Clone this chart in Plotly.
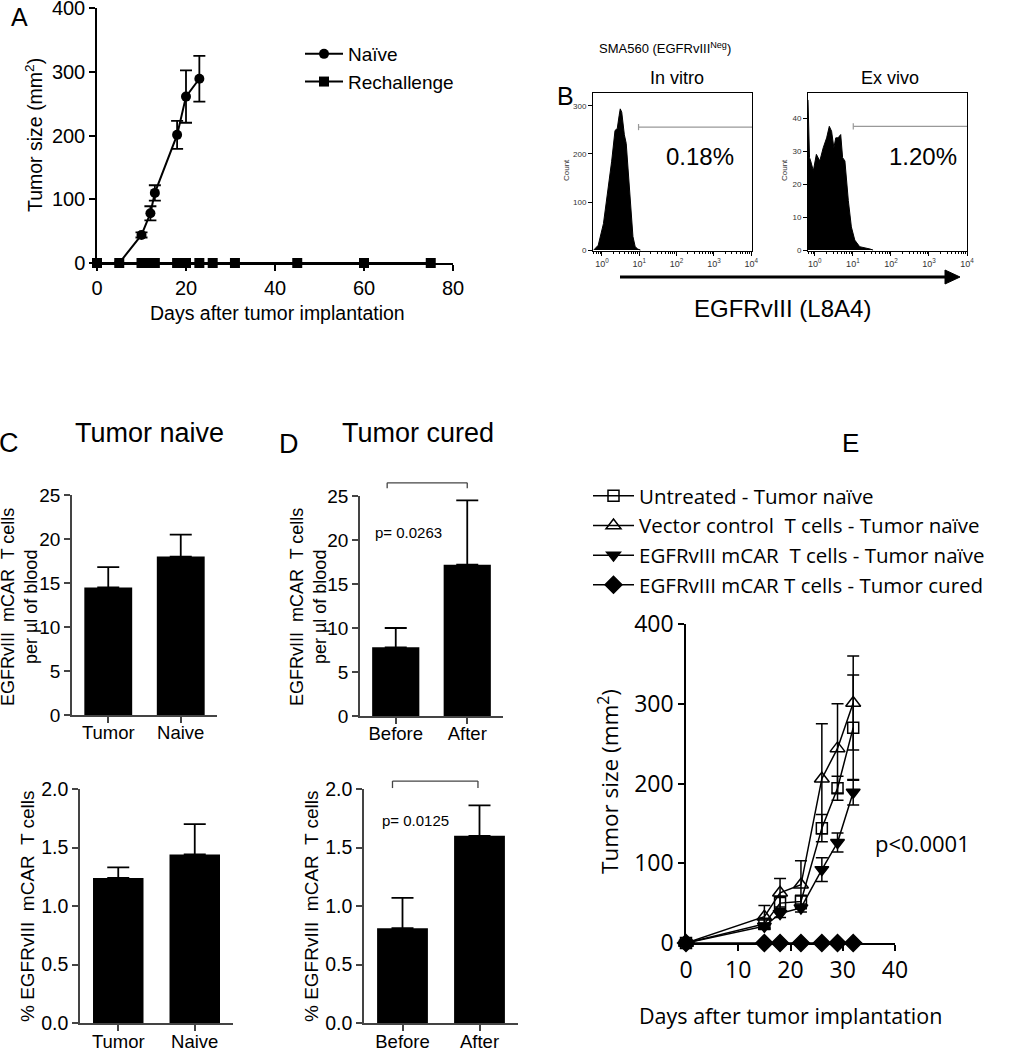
import numpy as np
import plotly.graph_objects as go

W, H = 1021, 1050
ARIAL = "Liberation Sans, Arial, sans-serif"
SEGOE = "Open Sans, sans-serif"

# ---------------- Panel A data ----------------
a_naive_days = [0, 5, 10, 12, 13, 18, 20, 23]
a_naive_size = [0, 0, 44, 78, 110, 201, 261, 289]
a_naive_err = [0, 0, 4, 11, 12, 22, 41, 36]
a_re_days = [0, 5, 10, 11, 12, 13, 18, 19, 20, 23, 26, 31, 45, 60, 75]
a_re_size = [0, 0, 0, 0, 0, 0, 0, 0, 0, 0, 0, 0, 0, 0, 0]
a_xticks = [0, 20, 40, 60, 80]
a_yticks = [0, 100, 200, 300, 400]

# ---------------- Panel B data (log10 fluorescence, count) ----------------
b_vitro_log = [-0.22, -0.10, 0.04, 0.14, 0.26, 0.35, 0.41, 0.46, 0.49, 0.53,
               0.60, 0.65, 0.68, 0.76, 0.83, 0.89, 0.96, 1.03]
b_vitro_cnt = [0, 10, 55, 110, 185, 249, 253, 280, 294, 287,
               240, 222, 190, 104, 28, 7, 2, 0]
b_vivo_log = [-0.18, -0.165, -0.14, -0.11, -0.04, 0.04, 0.13, 0.22, 0.31, 0.38,
              0.44, 0.50, 0.55, 0.61, 0.68, 0.73, 0.79, 0.88, 0.96, 1.05,
              1.18, 1.45, 1.53]
b_vivo_cnt = [45.5, 40, 28, 27, 24, 29, 27, 31, 34, 37.5,
              36, 31, 34, 34, 35, 28, 27, 15, 7, 3,
              1, 0.3, 0]
b_vitro_gate = {"log": [0.98, 4.02], "count": 256}
b_vivo_gate = {"log": [1.01, 4.0], "count": 37.5}
b_vitro_yticks = [0, 100, 200, 300]
b_vivo_yticks = [0, 10, 20, 30, 40]
b_xtick_exp = [0, 1, 2, 3, 4]
b_vitro_pct = "0.18%"
b_vivo_pct = "1.20%"

# ---------------- Panel C / D data ----------------
c_cats = ["Tumor", "Naive"]
c_count = [14.5, 18.0]
c_count_err = [2.3, 2.5]
c_pct = [1.24, 1.44]
c_pct_err = [0.09, 0.26]
d_cats = ["Before", "After"]
d_count = [7.8, 17.2]
d_count_err = [2.2, 7.3]
d_pct = [0.81, 1.60]
d_pct_err = [0.26, 0.26]
count_ticks = [0, 5, 10, 15, 20, 25]
pct_ticks = [0.0, 0.5, 1.0, 1.5, 2.0]
pct_ticktext = ["0.0", "0.5", "1.0", "1.5", "2.0"]
d_count_p = "p= 0.0263"
d_pct_p = "p= 0.0125"

# ---------------- Panel E data ----------------
e_days = [0, 15, 18, 22, 26, 29, 32]
e_untreated = [0, 24, 50, 52, 144, 194, 270]
e_untreated_err = [0, 6, 8, 8, 17, 15, 66]
e_vector = [0, 33, 63, 73, 206, 244, 301]
e_vector_err = [0, 14, 18, 30, 69, 56, 59]
e_car_naive = [0, 21, 37, 44, 92, 126, 189]
e_car_naive_err = [0, 4, 5, 5, 15, 12, 16]
e_car_cured = [0, 0, 0, 0, 0, 0, 0]
e_xticks = [0, 10, 20, 30, 40]
e_yticks = [0, 100, 200, 300, 400]
e_names = ["Untreated - Tumor naïve",
           "Vector control  T cells - Tumor naïve",
           "EGFRvIII mCAR  T cells - Tumor naïve",
           "EGFRvIII mCAR T cells - Tumor cured"]


def px(x, y):
    return x / W, 1 - y / H


def dom_x(a, b):
    return [a / W, b / W]


def dom_y(top, bottom):
    return [1 - bottom / H, 1 - top / H]


def axis(domain, anchor, size, font=ARIAL, **kw):
    d = dict(domain=domain, anchor=anchor, showline=True, linecolor="black",
             linewidth=1.5, ticks="outside", tickcolor="black", ticklen=6,
             tickwidth=1.5, showgrid=False, zeroline=False, fixedrange=True,
             automargin=False, ticklabeloverflow="allow",
             tickfont=dict(family=font, size=size, color="black"))
    d.update(kw)
    return d


fig = go.Figure()

# ---------------- Panel A ----------------
fig.add_trace(go.Scatter(
    x=a_re_days, y=a_re_size, mode="lines+markers", name="Rechallenge",
    line=dict(color="black", width=2), marker=dict(symbol="square", size=10, color="black"),
    xaxis="x", yaxis="y", cliponaxis=False, legend="legend"))
fig.add_trace(go.Scatter(
    x=a_naive_days, y=a_naive_size, mode="lines+markers", name="Naïve",
    line=dict(color="black", width=2), marker=dict(symbol="circle", size=10, color="black"),
    error_y=dict(type="data", array=a_naive_err, color="black", thickness=1.8, width=6),
    xaxis="x", yaxis="y", cliponaxis=False, legend="legend"))

# ---------------- Panel B ----------------
for lg, cnt, gate, xa, ya in [(b_vitro_log, b_vitro_cnt, b_vitro_gate, "x2", "y2"),
                              (b_vivo_log, b_vivo_cnt, b_vivo_gate, "x3", "y3")]:
    fig.add_trace(go.Scatter(
        x=10 ** np.array(lg), y=cnt, mode="lines", fill="tozeroy",
        fillcolor="black", line=dict(color="black", width=1),
        xaxis=xa, yaxis=ya, showlegend=False))
    gx = 10 ** np.array(gate["log"])
    g = gate["count"]
    fig.add_trace(go.Scatter(
        x=[gx[0], gx[1]], y=[g, g], mode="lines",
        line=dict(color="#999999", width=1.2), xaxis=xa, yaxis=ya,
        showlegend=False, cliponaxis=False))
    fig.add_trace(go.Scatter(
        x=[gx[0], gx[0]], y=[g * 0.975, g * 1.025], mode="lines",
        line=dict(color="#999999", width=1.2), xaxis=xa, yaxis=ya,
        showlegend=False))

# ---------------- Panels C / D ----------------
for cats, vals, errs, xa, ya in [(c_cats, c_count, c_count_err, "x4", "y4"),
                                 (c_cats, c_pct, c_pct_err, "x5", "y5"),
                                 (d_cats, d_count, d_count_err, "x6", "y6"),
                                 (d_cats, d_pct, d_pct_err, "x7", "y7")]:
    fig.add_trace(go.Bar(
        x=cats, y=vals, width=0.66, marker=dict(color="black", line=dict(width=0)),
        error_y=dict(type="data", array=errs, arrayminus=[0] * len(errs),
                     symmetric=False, color="black", thickness=1.8, width=11),
        xaxis=xa, yaxis=ya, showlegend=False))

# ---------------- Panel E ----------------
e_series = [
    (e_untreated, e_untreated_err, "square-open", 11),
    (e_vector, e_vector_err, "triangle-up-open", 13),
    (e_car_naive, e_car_naive_err, "triangle-down", 12),
    (e_car_cured, None, "diamond", 13),
]
for (vals, errs, sym, sz), name in zip(e_series, e_names):
    tr = dict(x=e_days, y=vals, mode="lines+markers", name=name,
              line=dict(color="black", width=1.5),
              marker=dict(symbol=sym, size=sz, color="black", line=dict(width=1.5, color="black")),
              xaxis="x8", yaxis="y8", cliponaxis=False, legend="legend2")
    if errs is not None:
        tr["error_y"] = dict(type="data", array=errs, color="black", thickness=1.5, width=6)
    fig.add_trace(go.Scatter(**tr))

# ---------------- Axes ----------------
log_minor = [k * 10 ** d for d in range(-1, 4) for k in range(2, 10)]
b_ticktext = ["10<sup>%d</sup>" % e for e in b_xtick_exp]
b_tickvals = [10 ** e for e in b_xtick_exp]
GREY_AX = dict(linecolor="#444444", tickcolor="#444444")

layout_axes = dict(
    xaxis=axis(dom_x(97, 453), "y", 20, range=[0, 80], tickvals=a_xticks),
    yaxis=axis(dom_y(8, 263), "x", 20, range=[0, 400], tickvals=a_yticks),
    xaxis2=axis(dom_x(593, 752), "y2", 8, type="log", range=[-0.24, 4.02], mirror=True,
                linewidth=1, tickwidth=1, ticklen=4, tickvals=b_tickvals, ticktext=b_ticktext,
                tickfont=dict(family=ARIAL, size=9, color="#333333"),
                minor=dict(ticks="outside", ticklen=2, tickvals=log_minor, tickcolor="black")),
    yaxis2=axis(dom_y(93, 251), "x2", 8, range=[-2, 327], mirror=True, linewidth=1,
                tickwidth=1, ticklen=4, tickvals=b_vitro_yticks,
                tickfont=dict(family=ARIAL, size=8, color="#333333")),
    xaxis3=axis(dom_x(808, 967), "y3", 8, type="log", range=[-0.18, 4.0], mirror=True,
                linewidth=1, tickwidth=1, ticklen=4, tickvals=b_tickvals, ticktext=b_ticktext,
                tickfont=dict(family=ARIAL, size=9, color="#333333"),
                minor=dict(ticks="outside", ticklen=2, tickvals=log_minor, tickcolor="black")),
    yaxis3=axis(dom_y(93, 251), "x3", 8, range=[-0.3, 47.6], mirror=True, linewidth=1,
                tickwidth=1, ticklen=4, tickvals=b_vivo_yticks,
                tickfont=dict(family=ARIAL, size=8, color="#333333")),
    xaxis4=axis(dom_x(72, 217), "y4", 18.5, type="category", range=[-0.5, 1.5],
                ticklabelstandoff=-6, **GREY_AX),
    yaxis4=axis(dom_y(495, 715), "x4", 19, range=[0, 25], tickvals=count_ticks, **GREY_AX),
    xaxis5=axis(dom_x(80, 233), "y5", 18.5, type="category", range=[-0.5, 1.5],
                ticklabelstandoff=-5, **GREY_AX),
    yaxis5=axis(dom_y(789, 1023), "x5", 19.5, range=[0, 2], tickvals=pct_ticks,
                ticktext=pct_ticktext, **GREY_AX),
    xaxis6=axis(dom_x(360, 503), "y6", 18.5, type="category", range=[-0.5, 1.5],
                ticklabelstandoff=-6, **GREY_AX),
    yaxis6=axis(dom_y(496, 716), "x6", 19, range=[0, 25], tickvals=count_ticks, **GREY_AX),
    xaxis7=axis(dom_x(364, 518), "y7", 18.5, type="category", range=[-0.5, 1.5],
                ticklabelstandoff=-5, **GREY_AX),
    yaxis7=axis(dom_y(789, 1023), "x7", 19.5, range=[0, 2], tickvals=pct_ticks,
                ticktext=pct_ticktext, **GREY_AX),
    xaxis8=axis(dom_x(686, 895), "y8", 23, font=SEGOE, range=[0, 40], tickvals=e_xticks),
    yaxis8=axis(dom_y(624, 943), "x8", 23, font=SEGOE, range=[0, 400], tickvals=e_yticks),
)

annotations = []


def ann(x, y, text, size, font=ARIAL, angle=0, xanchor="center", color="black"):
    ax_, ay_ = px(x, y)
    annotations.append(dict(x=ax_, y=ay_, xref="paper", yref="paper", text=text,
                            showarrow=False, textangle=angle, xanchor=xanchor,
                            yanchor="middle", font=dict(family=font, size=size, color=color)))


# panel letters
ann(19, 17, "A", 25)
ann(565, 96, "B", 25)
ann(9, 443, "C", 27)
ann(289, 444, "D", 27)
ann(850, 443, "E", 26)

# Panel A titles
ann(34, 135, "Tumor size (mm<sup>2</sup>)", 19.5, angle=-90)
ann(277, 313, "Days after tumor implantation", 19.5)

# Panel B texts
ann(665, 48, "SMA560 (EGFRvIII<sup>Neg</sup>)", 13)
ann(677, 78, "In vitro", 18)
ann(890, 78, "Ex vivo", 18)
ann(700, 157, b_vitro_pct, 24)
ann(923, 157, b_vivo_pct, 24)
ann(567, 170, "Count", 8, angle=-90, color="#333333")
ann(785, 170, "Count", 8, angle=-90, color="#333333")
ann(782, 308, "EGFRvIII (L8A4)", 24)

# Panel C / D titles
ann(149, 433, "Tumor naive", 27)
ann(418, 433, "Tumor cured", 27)
ann(19, 607, "EGFRvIII  mCAR  T cells<br>per µl of blood", 18, angle=-90)
ann(27, 906, "% EGFRvIII  mCAR  T cells", 19, angle=-90)
ann(308, 607, "EGFRvIII  mCAR  T cells<br>per µl of blood", 18, angle=-90)
ann(311, 906, "% EGFRvIII  mCAR  T cells", 19, angle=-90)
ann(408, 532, d_count_p, 15)
ann(415, 820, d_pct_p, 15)

# Panel E texts
ann(608, 782, "Tumor size (mm<sup>2</sup>)", 22.5, font=SEGOE, angle=-90)
ann(790, 1015, "Days after tumor implantation", 21.5, font=SEGOE)
ann(873, 843, "p<0.0001", 22, font=SEGOE, xanchor="left")

shapes = []
BR = dict(color="#444444", width=1.3)


def bracket(xa, ya, xl, xr, ytop, ybot):
    shapes.append(dict(type="line", xref=xa, yref=ya + " domain", x0=xl, x1=xr,
                       y0=ytop, y1=ytop, line=BR))
    shapes.append(dict(type="line", xref=xa, yref=ya + " domain", x0=xl, x1=xl,
                       y0=ybot, y1=ytop, line=BR))
    shapes.append(dict(type="line", xref=xa, yref=ya + " domain", x0=xr, x1=xr,
                       y0=ybot, y1=ytop, line=BR))


# significance brackets between the two categories (category index on x)
bracket("x6", "y6", -0.12, 1.0, 1.06, 1.035)
bracket("x7", "y7", -0.13, 0.98, 1.034, 1.004)

# Panel B arrow
x0, y0 = px(620, 277)
x1, y1 = px(945, 277)
x2, _ = px(960, 277)
_, yh = px(0, 270)
_, yl = px(0, 284)
shapes.append(dict(type="line", xref="paper", yref="paper", x0=x0, x1=x1, y0=y0, y1=y1,
                   line=dict(color="black", width=3)))
shapes.append(dict(type="path", xref="paper", yref="paper",
                   path=f"M {x1},{yh} L {x2},{y0} L {x1},{yl} Z",
                   fillcolor="black", line=dict(color="black", width=1)))

lx, ly = px(300, 35)
ex, ey = px(588, 476)
fig.update_layout(
    width=W, height=H, autosize=False,
    margin=dict(l=0, r=0, t=0, b=0, autoexpand=False),
    paper_bgcolor="white", plot_bgcolor="rgba(0,0,0,0)",
    showlegend=True,
    legend=dict(x=lx, y=ly, xanchor="left", yanchor="top", bgcolor="rgba(0,0,0,0)",
                font=dict(family=ARIAL, size=19, color="black"), traceorder="reversed",
                itemwidth=38),
    legend2=dict(x=ex, y=ey, xanchor="left", yanchor="top", bgcolor="rgba(0,0,0,0)",
                 font=dict(family=SEGOE, size=20.5, color="black"), traceorder="normal",
                 itemwidth=41),
    annotations=annotations,
    shapes=shapes,
    bargap=0.3,
    **layout_axes,
)

fig.write_html("out.html", config={"displayModeBar": False},
               post_script="document.body.style.margin='0';document.body.style.overflow='hidden';")
